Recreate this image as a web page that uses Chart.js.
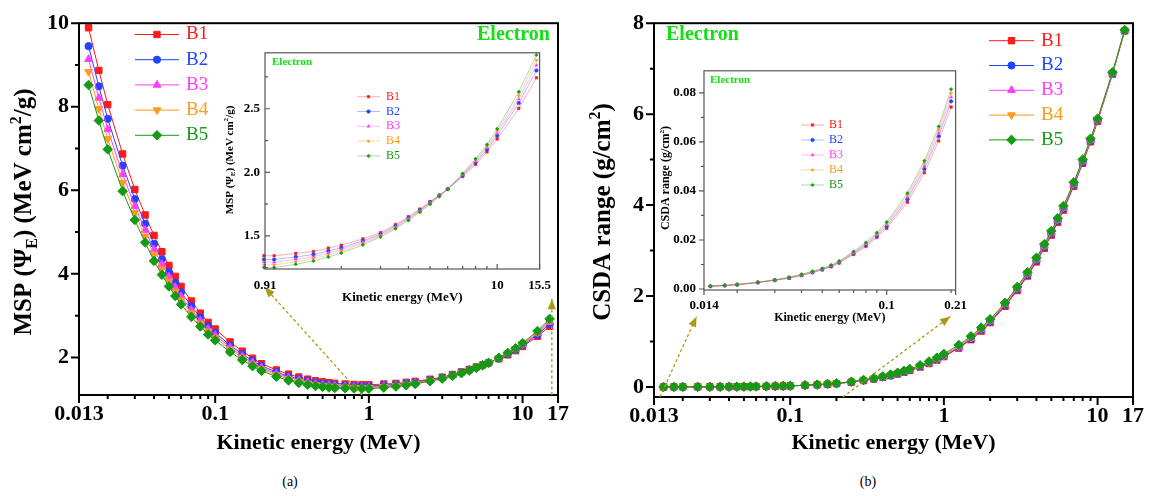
<!DOCTYPE html>
<html>
<head>
<meta charset="utf-8">
<title>Electron MSP and CSDA range</title>
<script src="https://cdn.jsdelivr.net/npm/chart.js@4.4.1/dist/chart.umd.min.js"></script>
<style>
  html, body { margin: 0; padding: 0; background: #fff; }
  #page { position: relative; width: 1150px; height: 496px; overflow: hidden; font-family: "Liberation Serif", serif; }
  .box { position: absolute; }
  .cap { position: absolute; top: 474px; width: 40px; margin-left: -20px; text-align: center; font-size: 14px; color: #000; }
</style>
</head>
<body>
<div id="page">
  <div class="box" style="left:0;top:0;width:575px;height:457px"><canvas id="mspMain"></canvas></div>
  <div class="box" style="left:575px;top:0;width:575px;height:457px"><canvas id="csdaMain"></canvas></div>
  <div class="box" style="left:215px;top:40px;width:345px;height:265px"><canvas id="mspInset"></canvas></div>
  <div class="box" style="left:640px;top:55px;width:335px;height:270px"><canvas id="csdaInset"></canvas></div>
  <div class="cap" style="left:290px">(a)</div>
  <div class="cap" style="left:868px">(b)</div>
</div>
<script>
// kinetic energy grid (MeV)
const energy = [0.015, 0.0175, 0.02, 0.025, 0.03, 0.035, 0.04, 0.045, 0.05, 0.055, 0.06, 0.07, 0.08, 0.09,
  0.1, 0.125, 0.15, 0.175, 0.2, 0.25, 0.3, 0.35, 0.4, 0.45, 0.5, 0.55, 0.6, 0.7, 0.8, 0.9,
  1, 1.25, 1.5, 1.75, 2, 2.5, 3, 3.5, 4, 4.5, 5, 5.5, 6, 7, 8, 9, 10, 12.5, 15];

// mass stopping power (MeV cm2/g)
const mspB1 = [9.89, 8.87, 8.05, 6.87, 6.02, 5.41, 4.92, 4.53, 4.20, 3.94, 3.70, 3.35, 3.06, 2.84,
  2.68, 2.37, 2.15, 1.98, 1.85, 1.70, 1.60, 1.53, 1.48, 1.44, 1.415, 1.395, 1.38, 1.363, 1.352, 1.345,
  1.344, 1.363, 1.378, 1.404, 1.427, 1.477, 1.526, 1.590, 1.652, 1.711, 1.770, 1.821, 1.868, 1.967, 2.062, 2.161, 2.262, 2.503, 2.744];
const mspB2 = [9.45, 8.49, 7.71, 6.59, 5.79, 5.20, 4.72, 4.35, 4.04, 3.79, 3.56, 3.23, 2.96, 2.75,
  2.59, 2.29, 2.08, 1.92, 1.80, 1.65, 1.55, 1.485, 1.437, 1.400, 1.377, 1.358, 1.345, 1.331, 1.321, 1.315,
  1.314, 1.335, 1.354, 1.382, 1.407, 1.462, 1.515, 1.579, 1.642, 1.703, 1.764, 1.817, 1.868, 1.974, 2.076, 2.179, 2.288, 2.545, 2.801];
const mspB3 = [9.14, 8.21, 7.46, 6.38, 5.62, 5.05, 4.58, 4.23, 3.93, 3.68, 3.46, 3.14, 2.88, 2.68,
  2.53, 2.24, 2.03, 1.88, 1.76, 1.61, 1.52, 1.453, 1.406, 1.371, 1.349, 1.332, 1.320, 1.307, 1.299, 1.294,
  1.293, 1.316, 1.337, 1.366, 1.393, 1.451, 1.507, 1.572, 1.636, 1.698, 1.759, 1.815, 1.868, 1.980, 2.087, 2.192, 2.306, 2.575, 2.842];
const mspB4 = [8.84, 7.95, 7.23, 6.18, 5.46, 4.90, 4.45, 4.11, 3.82, 3.58, 3.37, 3.06, 2.81, 2.62,
  2.47, 2.19, 1.99, 1.83, 1.72, 1.58, 1.48, 1.422, 1.376, 1.344, 1.323, 1.306, 1.295, 1.285, 1.278, 1.273,
  1.272, 1.297, 1.320, 1.350, 1.379, 1.441, 1.500, 1.565, 1.629, 1.693, 1.755, 1.813, 1.868, 1.985, 2.097, 2.205, 2.324, 2.603, 2.882];
const mspB5 = [8.52, 7.67, 6.98, 5.98, 5.29, 4.75, 4.31, 3.98, 3.70, 3.47, 3.27, 2.97, 2.74, 2.55,
  2.41, 2.13, 1.94, 1.79, 1.68, 1.54, 1.45, 1.39, 1.345, 1.315, 1.295, 1.28, 1.27, 1.262, 1.256, 1.252,
  1.251, 1.277, 1.303, 1.334, 1.365, 1.430, 1.492, 1.557, 1.622, 1.687, 1.750, 1.810, 1.868, 1.990, 2.107, 2.218, 2.342, 2.633, 2.923];

// CSDA range (g/cm2)
const csdaB1 = [0.0011, 0.0014, 0.0017, 0.0026, 0.0035, 0.0044, 0.0055, 0.0067, 0.0078, 0.0091, 0.0106, 0.0141, 0.0174, 0.0210,
  0.0247, 0.0354, 0.0474, 0.0604, 0.0742, 0.106, 0.141, 0.177, 0.213, 0.250, 0.287, 0.325, 0.363, 0.439, 0.515, 0.591,
  0.667, 0.855, 1.040, 1.230, 1.415, 1.775, 2.120, 2.440, 2.750, 3.050, 3.340, 3.620, 3.890, 4.415, 4.920, 5.390, 5.840, 6.880, 7.830];
const csdaB2 = [0.00113, 0.00143, 0.00176, 0.00266, 0.0036, 0.00453, 0.00566, 0.00686, 0.00799, 0.00932, 0.01086, 0.01448, 0.01791, 0.02164,
  0.02553, 0.03658, 0.04897, 0.06229, 0.07654, 0.109, 0.145, 0.181, 0.218, 0.255, 0.293, 0.332, 0.370, 0.448, 0.525, 0.603,
  0.680, 0.872, 1.059, 1.251, 1.437, 1.799, 2.146, 2.467, 2.779, 3.079, 3.369, 3.649, 3.919, 4.442, 4.946, 5.412, 5.859, 6.893, 7.836];
const csdaB3 = [0.00116, 0.00146, 0.00181, 0.00271, 0.00367, 0.00462, 0.00578, 0.00698, 0.00814, 0.00949, 0.01105, 0.01477, 0.0183, 0.02212,
  0.02616, 0.03747, 0.05014, 0.0637, 0.07829, 0.111, 0.147, 0.184, 0.221, 0.260, 0.298, 0.337, 0.376, 0.454, 0.533, 0.612,
  0.691, 0.884, 1.074, 1.266, 1.454, 1.817, 2.165, 2.488, 2.800, 3.100, 3.390, 3.670, 3.940, 4.463, 4.965, 5.429, 5.874, 6.902, 7.841];
const csdaB4 = [0.00118, 0.00148, 0.00186, 0.00276, 0.00373, 0.00471, 0.00589, 0.00709, 0.00827, 0.00965, 0.01122, 0.01504, 0.01865, 0.02256,
  0.02673, 0.03829, 0.05122, 0.065, 0.07989, 0.113, 0.150, 0.187, 0.225, 0.263, 0.302, 0.341, 0.381, 0.460, 0.540, 0.620,
  0.700, 0.896, 1.087, 1.281, 1.470, 1.834, 2.182, 2.506, 2.820, 3.120, 3.410, 3.690, 3.960, 4.481, 4.982, 5.445, 5.887, 6.911, 7.846];
const csdaB5 = [0.0012, 0.0015, 0.0019, 0.0028, 0.0038, 0.0048, 0.0060, 0.0072, 0.0084, 0.0098, 0.0114, 0.0153, 0.0190, 0.0230,
  0.0273, 0.0391, 0.0523, 0.0663, 0.0815, 0.117, 0.155, 0.194, 0.233, 0.273, 0.313, 0.354, 0.395, 0.478, 0.561, 0.644,
  0.727, 0.925, 1.115, 1.305, 1.490, 1.850, 2.200, 2.525, 2.840, 3.140, 3.430, 3.710, 3.980, 4.500, 5.000, 5.460, 5.900, 6.920, 7.850];

// axis ticks
const mainXLabels = [0.013, 0.1, 1, 10, 17];
const mainXMinor = [0.02, 0.03, 0.04, 0.05, 0.06, 0.07, 0.08, 0.09, 0.2, 0.3, 0.4, 0.5, 0.6, 0.7, 0.8, 0.9, 2, 3, 4, 5, 6, 7, 8, 9];
const mspYLabels = [2, 4, 6, 8, 10];
const mspYMinor = [3, 5, 7, 9];
const csdaYLabels = [0, 2, 4, 6, 8];
const csdaYMinor = [1, 3, 5, 7];
const mspInsetXLabels = [0.91, 10, 15.5];
const mspInsetXMinor = [1, 2, 3, 4, 5, 6, 7, 8, 9];
const mspInsetYLabels = [1.5, 2.0, 2.5];
const mspInsetYMinor = [1.25, 1.75, 2.25, 2.75];
const csdaInsetXLabels = [0.014, 0.1, 0.21];
const csdaInsetXMinor = [0.02, 0.03, 0.04, 0.05, 0.06, 0.07, 0.08, 0.09, 0.2];
const csdaInsetYLabels = [0, 0.02, 0.04, 0.06, 0.08];
const csdaInsetYMinor = [0.01, 0.03, 0.05, 0.07];

const SERIF = '"Liberation Serif", "Times New Roman", serif';
const names = ['B1', 'B2', 'B3', 'B4', 'B5'];
const colors = ['#ff1a1a', '#1f45ff', '#ff3cff', '#ff9a1a', '#159a15'];
const faded = ['rgba(255,26,26,0.45)', 'rgba(31,69,255,0.45)', 'rgba(255,60,255,0.45)', 'rgba(255,154,26,0.5)', 'rgba(21,154,21,0.45)'];
const shapes = ['rect', 'circle', 'triangle', 'triangle', 'rectRot'];
const turns = [0, 0, 0, 180, 0];
const radii = [4.5, 3.6, 4.5, 4.5, 4.8];

function buildSets(series, keep, inset) {
  const xs = energy.filter(keep);
  return series.map((vals, i) => {
    const ys = vals.filter((v, k) => keep(energy[k]));
    return {
      label: names[i],
      data: xs.map((x, k) => ({ x, y: ys[k] })),
      borderColor: inset ? faded[i] : colors[i],
      backgroundColor: colors[i],
      pointBackgroundColor: colors[i],
      pointBorderColor: colors[i],
      pointStyle: shapes[i],
      pointRotation: turns[i],
      pointRadius: inset ? 1.8 : radii[i],
      pointBorderWidth: inset ? 0.5 : 1,
      borderWidth: inset ? 0.8 : 1,
      order: 4 - i,
      clip: 6,
    };
  });
}

function drawRich(ctx, parts, cx, cy, size) {
  ctx.save();
  ctx.translate(cx, cy);
  ctx.rotate(-Math.PI / 2);
  const fontFor = p => `bold ${p[1] ? Math.round(size * 0.62) : size}px ${SERIF}`;
  let total = 0;
  parts.forEach(p => { ctx.font = fontFor(p); total += ctx.measureText(p[0]).width; });
  let x = -total / 2;
  ctx.fillStyle = '#000';
  ctx.textAlign = 'left';
  ctx.textBaseline = 'middle';
  parts.forEach(p => {
    ctx.font = fontFor(p);
    const dy = p[1] === 'sub' ? size * 0.32 : p[1] === 'sup' ? -size * 0.34 : 0;
    ctx.fillText(p[0], x, dy);
    x += ctx.measureText(p[0]).width;
  });
  ctx.restore();
}

function arrow(ctx, x0, y0, x1, y1) {
  ctx.strokeStyle = '#a99a16';
  ctx.fillStyle = '#a99a16';
  ctx.lineWidth = 1.3;
  ctx.setLineDash([3, 2.5]);
  ctx.beginPath();
  ctx.moveTo(x0, y0);
  ctx.lineTo(x1, y1);
  ctx.stroke();
  ctx.setLineDash([]);
  const ang = Math.atan2(y1 - y0, x1 - x0);
  const h = 11, w = 0.38;
  ctx.beginPath();
  ctx.moveTo(x1, y1);
  ctx.lineTo(x1 - h * Math.cos(ang - w), y1 - h * Math.sin(ang - w));
  ctx.lineTo(x1 - h * Math.cos(ang + w), y1 - h * Math.sin(ang + w));
  ctx.closePath();
  ctx.fill();
}

// box round the plot area plus major/minor tick marks
const frame = {
  id: 'frame',
  afterDatasetsDraw(chart, args, o) {
    const { ctx, chartArea: a, scales: { x, y } } = chart;
    ctx.save();
    ctx.strokeStyle = o.color;
    ctx.lineWidth = o.width;
    ctx.strokeRect(a.left, a.top, a.right - a.left, a.bottom - a.top);
    ctx.beginPath();
    const down = (v, len) => { const p = x.getPixelForValue(v); ctx.moveTo(p, a.bottom); ctx.lineTo(p, a.bottom + len * o.xDir); };
    const side = (v, len) => { const p = y.getPixelForValue(v); ctx.moveTo(a.left, p); ctx.lineTo(a.left - len * o.yDir, p); };
    o.xMajor.forEach(v => down(v, o.major));
    o.xMinor.forEach(v => down(v, o.minor));
    o.yMajor.forEach(v => side(v, o.major));
    o.yMinor.forEach(v => side(v, o.minor));
    ctx.stroke();
    ctx.restore();
  }
};

// legend, "Electron" tag, rich y title and zoom arrows
const notes = {
  id: 'notes',
  afterDraw(chart, args, o) {
    const { ctx, scales: { x, y } } = chart;
    ctx.save();
    (o.arrows || []).forEach(([x0, y0, x1, y1]) => {
      arrow(ctx, x.getPixelForValue(x0), y.getPixelForValue(y0), x.getPixelForValue(x1), y.getPixelForValue(y1));
    });
    ctx.fillStyle = '#12e012';
    ctx.font = `bold ${o.tagSize}px ${SERIF}`;
    ctx.textAlign = 'left';
    ctx.textBaseline = 'middle';
    ctx.fillText('Electron', o.tag[0], o.tag[1]);
    const L = o.legend;
    chart.data.datasets.forEach((ds, i) => {
      const yy = L.y + i * L.gap;
      ctx.strokeStyle = ds.borderColor;
      ctx.lineWidth = ds.borderWidth;
      ctx.beginPath();
      ctx.moveTo(L.x, yy);
      ctx.lineTo(L.x + L.len, yy);
      ctx.stroke();
      ctx.fillStyle = ds.pointBackgroundColor;
      ctx.strokeStyle = ds.pointBorderColor;
      ctx.lineWidth = ds.pointBorderWidth;
      Chart.helpers.drawPoint(ctx, { pointStyle: ds.pointStyle, rotation: ds.pointRotation, radius: ds.pointRadius, borderWidth: ds.pointBorderWidth }, L.x + L.len / 2, yy);
      ctx.font = `${L.size}px ${SERIF}`;
      ctx.fillText(ds.label, L.x + L.len + L.pad, yy);
    });
    drawRich(ctx, o.yTitle, o.yTitleAt[0], o.yTitleAt[1], o.yTitleSize);
    ctx.restore();
  }
};

function makeChart(id, cfg) {
  const tickFont = { family: SERIF, size: cfg.tickSize, weight: 'bold' };
  return new Chart(document.getElementById(id), {
    type: 'line',
    data: { datasets: cfg.sets },
    plugins: [frame, notes],
    options: {
      responsive: true,
      maintainAspectRatio: false,
      animation: false,
      layout: { padding: cfg.padding },
      plugins: {
        legend: { display: false },
        tooltip: { enabled: false },
        frame: cfg.frame,
        notes: cfg.notes,
      },
      scales: {
        x: {
          type: 'logarithmic',
          min: cfg.xMin,
          max: cfg.xMax,
          afterBuildTicks: s => { s.ticks = cfg.xLabels.map(value => ({ value })); },
          afterFit: s => { s.height = cfg.xHeight; },
          grid: { display: false, drawTicks: false },
          border: { display: false },
          ticks: { autoSkip: false, maxRotation: 0, padding: cfg.xPad, color: '#000', font: tickFont, callback: v => String(v) },
          title: { display: true, text: 'Kinetic energy (MeV)', color: '#000', padding: 0, font: { family: SERIF, size: cfg.xTitleSize, weight: 'bold' } },
        },
        y: {
          type: 'linear',
          min: cfg.yMin,
          max: cfg.yMax,
          afterBuildTicks: s => { s.ticks = cfg.yLabels.map(value => ({ value })); },
          afterFit: s => { s.width = cfg.yWidth; },
          grid: { display: false, drawTicks: false },
          border: { display: false },
          ticks: { padding: cfg.yPad, color: '#000', font: tickFont, callback: v => cfg.yFormat(v) },
        },
      },
    },
  });
}

const mspTitle = [['MSP (\u03A8'], ['E', 'sub'], [') (MeV cm'], ['2', 'sup'], ['/g)']];
const csdaTitle = [['CSDA range (g/cm'], ['2', 'sup'], [')']];
const all = () => true;

makeChart('mspMain', {
  sets: buildSets([mspB1, mspB2, mspB3, mspB4, mspB5], all, false),
  padding: { top: 16, right: 15, left: 0, bottom: 0 },
  xMin: 0.013, xMax: 17, xLabels: mainXLabels, xHeight: 62, xPad: 6, xTitleSize: 22,
  yMin: 1.1, yMax: 10, yLabels: mspYLabels, yWidth: 79, yPad: 10, yFormat: v => String(v),
  tickSize: 22,
  frame: { color: '#000', width: 2, major: 8, minor: 4, xDir: 1, yDir: 1,
    xMajor: mainXLabels, xMinor: mainXMinor, yMajor: mspYLabels, yMinor: mspYMinor },
  notes: {
    arrows: [[0.9, 1.1, 0.21, 3.68], [15.5, 1.1, 15.5, 3.4]],
    tag: [477, 35], tagSize: 20,
    legend: { x: 135, y: 34.5, gap: 25.2, len: 44, pad: 7, size: 19 },
    yTitle: mspTitle, yTitleAt: [25, 212], yTitleSize: 25,
  },
});

makeChart('csdaMain', {
  sets: buildSets([csdaB1, csdaB2, csdaB3, csdaB4, csdaB5], all, false),
  padding: { top: 16, right: 16, left: 0, bottom: 0 },
  xMin: 0.013, xMax: 17, xLabels: mainXLabels, xHeight: 60, xPad: 6, xTitleSize: 22,
  yMin: -0.22, yMax: 8, yLabels: csdaYLabels, yWidth: 79, yPad: 10, yFormat: v => String(v),
  tickSize: 22,
  frame: { color: '#000', width: 2, major: 8, minor: 4, xDir: 1, yDir: 1,
    xMajor: mainXLabels, xMinor: mainXMinor, yMajor: csdaYLabels, yMinor: csdaYMinor },
  notes: {
    arrows: [[0.0142, -0.22, 0.0246, 1.55], [0.22, -0.22, 1.1, 1.55]],
    tag: [91, 35], tagSize: 20,
    legend: { x: 414, y: 40.7, gap: 24.8, len: 45, pad: 7, size: 19 },
    yTitle: csdaTitle, yTitleAt: [29, 212], yTitleSize: 25,
  },
});

makeChart('mspInset', {
  sets: buildSets([mspB1, mspB2, mspB3, mspB4, mspB5], e => e >= 0.9, true),
  padding: { top: 10, right: 17, left: 0, bottom: 0 },
  xMin: 0.91, xMax: 15.5, xLabels: mspInsetXLabels, xHeight: 36, xPad: 9, xTitleSize: 13,
  yMin: 1.24, yMax: 2.94, yLabels: mspInsetYLabels, yWidth: 50, yPad: 5, yFormat: v => v.toFixed(1),
  tickSize: 13,
  frame: { color: '#555', width: 1.2, major: 5, minor: 3, xDir: -1, yDir: -1,
    xMajor: mspInsetXLabels, xMinor: mspInsetXMinor, yMajor: mspInsetYLabels, yMinor: mspInsetYMinor },
  notes: {
    tag: [57, 22], tagSize: 11,
    legend: { x: 142, y: 56.7, gap: 14.8, len: 23, pad: 6, size: 12 },
    yTitle: mspTitle, yTitleAt: [15, 120], yTitleSize: 11,
  },
});

makeChart('csdaInset', {
  sets: buildSets([csdaB1, csdaB2, csdaB3, csdaB4, csdaB5], e => e <= 0.2, true),
  padding: { top: 12, right: 18, left: 0, bottom: 0 },
  xMin: 0.014, xMax: 0.21, xLabels: csdaInsetXLabels, xHeight: 35, xPad: 8, xTitleSize: 12,
  yMin: -0.0004, yMax: 0.089, yLabels: csdaInsetYLabels, yWidth: 64, yPad: 8, yFormat: v => v.toFixed(2),
  tickSize: 13,
  frame: { color: '#555', width: 1.2, major: 5, minor: 3, xDir: 1, yDir: 1,
    xMajor: csdaInsetXLabels, xMinor: csdaInsetXMinor, yMajor: csdaInsetYLabels, yMinor: csdaInsetYMinor },
  notes: {
    tag: [70, 25], tagSize: 11,
    legend: { x: 161, y: 70, gap: 15, len: 23, pad: 5, size: 12 },
    yTitle: csdaTitle, yTitleAt: [26, 123], yTitleSize: 12,
  },
});
</script>
</body>
</html>
